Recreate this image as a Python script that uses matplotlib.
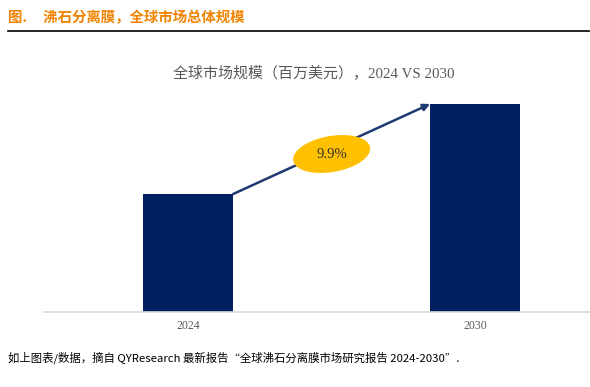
import matplotlib
matplotlib.use("Agg")
import matplotlib.pyplot as plt
from matplotlib.patches import Ellipse
from matplotlib.transforms import Affine2D, ScaledTranslation

categories = ["2024", "2030"]
values = [118, 208]
cagr_label = "9.9%"

header = "图.     沸石分离膜，全球市场总体规模"
title = "全球市场规模（百万美元），2024 VS 2030"
footer = "如上图表/数据，摘自 QYResearch 最新报告\u201c全球沸石分离膜市场研究报告 2024-2030\u201d."

W, H = 590, 387
fig = plt.figure(figsize=(W / 100, H / 100), dpi=100)

def px(x0, y0, x1, y1):
    return [x0 / W, 1 - y1 / H, (x1 - x0) / W, (y1 - y0) / H]

ax = fig.add_axes(px(44, 90, 590, 312))
xpos = list(range(len(categories)))
bw = 0.314
ax.bar(xpos, values, width=bw, color="#002060", zorder=2)
ax.set_xlim(-0.502, 1.40)
ax.set_ylim(0, 222)
for s in ["top", "left", "right"]:
    ax.spines[s].set_visible(False)
ax.spines["bottom"].set_color("#d9d9d9")
ax.spines["bottom"].set_linewidth(1.2)
ax.set_yticks([])
ax.set_xticks(xpos)
ax.set_xticklabels(categories, family="Liberation Serif", fontsize=8.5, color="#595959")
ax.tick_params(axis="x", length=0, pad=6)

# growth arrow
ax.annotate("", xy=(xpos[1] - bw / 2, values[1]), xytext=(xpos[0] + bw / 2, values[0]),
            arrowprops=dict(arrowstyle="-|>", color="#1F3A70", lw=1.8,
                            mutation_scale=10, shrinkA=0, shrinkB=0), zorder=3)
cx, cy = 0.5, 158
tr = Affine2D() + ScaledTranslation(cx, cy, ax.transData)
ell = Ellipse((0, 0), 78, 36, angle=10, facecolor="#FFC000", edgecolor="none",
              transform=tr, zorder=4)
ax.add_artist(ell)
ax.text(cx, cy, cagr_label, ha="center", va="center", family="Liberation Serif",
        fontsize=10.5, color="#333333", zorder=5)

fig.text(314 / W, 1 - 73 / H, title, ha="center", va="center",
         family=["Liberation Serif", "Noto Sans CJK SC"], fontsize=10.8, color="#595959")

fig.text(8 / W, 1 - 18 / H, header, ha="left", va="center",
         family=["Noto Sans CJK SC"], fontsize=10.4, fontweight="bold", color="#F08300")
fig.add_artist(plt.Line2D([8 / W, 589 / W], [1 - 31 / H, 1 - 31 / H], color="black", lw=1.2))

fig.text(8 / W, 1 - 358 / H, footer, ha="left", va="center",
         family=["Noto Sans CJK SC", "DejaVu Sans"], fontsize=8.2, style="italic", color="#000000")

fig.savefig("out.png", dpi=100)
